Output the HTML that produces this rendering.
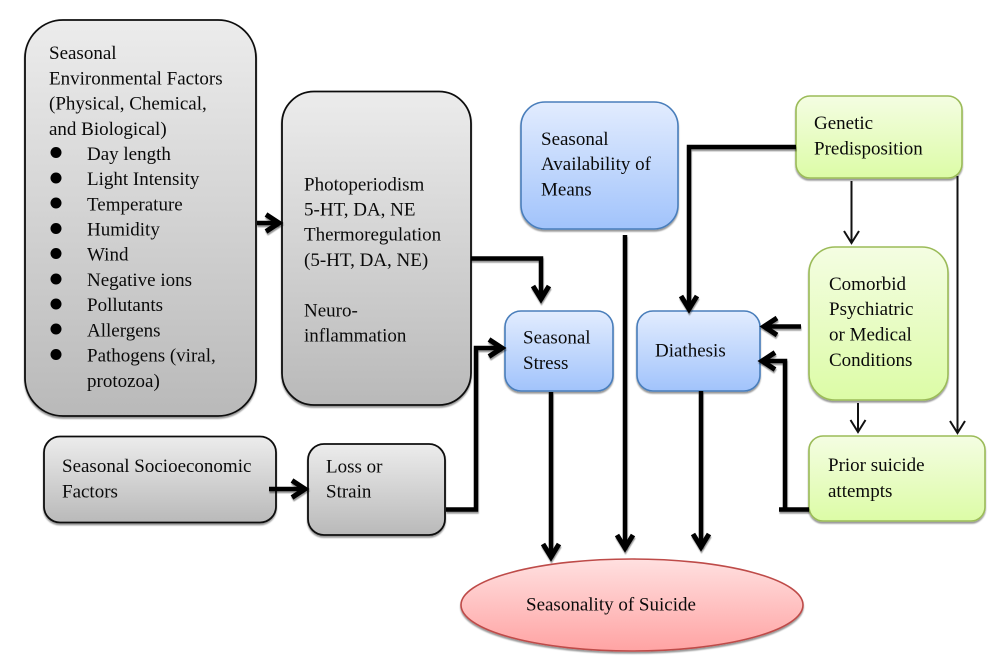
<!DOCTYPE html>
<html>
<head>
<meta charset="utf-8">
<style>
html,body{margin:0;padding:0;background:#fff;width:1000px;height:668px;overflow:hidden}
svg{display:block}
text{font-family:"Liberation Serif",serif;font-size:19px;fill:#0a0a0a}
</style>
</head>
<body>
<svg width="1000" height="668" viewBox="0 0 1000 668" xmlns="http://www.w3.org/2000/svg">
<defs>
<linearGradient id="g" x1="0" y1="0" x2="0" y2="1"><stop offset="0" stop-color="#ececec"/><stop offset="1" stop-color="#b9b9b9"/></linearGradient>
<linearGradient id="b" x1="0" y1="0" x2="0" y2="1"><stop offset="0" stop-color="#e2ecfe"/><stop offset="1" stop-color="#a1c3fb"/></linearGradient>
<linearGradient id="v" x1="0" y1="0" x2="0" y2="1"><stop offset="0" stop-color="#f4fde2"/><stop offset="1" stop-color="#dcfca6"/></linearGradient>
<linearGradient id="r" x1="0" y1="0" x2="0" y2="1"><stop offset="0" stop-color="#ffe0e0"/><stop offset="1" stop-color="#ffa3a3"/></linearGradient>
<filter id="s" x="-5%" y="-5%" width="110%" height="110%"><feDropShadow dx="0" dy="2" stdDeviation="0.8" flood-color="#000" flood-opacity="0.4"/></filter>
<filter id="c" filterUnits="userSpaceOnUse" x="0" y="0" width="1000" height="668"><feDropShadow dx="0.500" dy="2" stdDeviation="0.6" flood-color="#000" flood-opacity="0.4"/></filter>
</defs>

<!-- grey boxes -->
<rect x="25" y="20" width="231" height="396" rx="38" fill="url(#g)" stroke="#111" stroke-width="1.8" filter="url(#s)"/>
<rect x="282" y="91.500" width="189" height="313.500" rx="32" fill="url(#g)" stroke="#111" stroke-width="1.8" filter="url(#s)"/>
<rect x="44" y="436.500" width="232" height="86" rx="16" fill="url(#g)" stroke="#111" stroke-width="1.8" filter="url(#s)"/>
<rect x="308" y="444" width="137" height="91" rx="16" fill="url(#g)" stroke="#111" stroke-width="1.8" filter="url(#s)"/>

<!-- blue boxes -->
<rect x="521" y="102" width="157" height="127" rx="24" fill="url(#b)" stroke="#4a7ebb" stroke-width="1.6" filter="url(#s)"/>
<rect x="505" y="311" width="108" height="80" rx="16" fill="url(#b)" stroke="#4a7ebb" stroke-width="1.6" filter="url(#s)"/>
<rect x="637" y="311" width="123" height="80" rx="16" fill="url(#b)" stroke="#4a7ebb" stroke-width="1.6" filter="url(#s)"/>

<!-- green boxes -->
<rect x="796" y="96" width="166" height="82" rx="14" fill="url(#v)" stroke="#9bbb59" stroke-width="1.6" filter="url(#s)"/>
<rect x="809" y="247" width="139" height="153" rx="26" fill="url(#v)" stroke="#9bbb59" stroke-width="1.6" filter="url(#s)"/>
<rect x="809" y="436" width="176" height="85" rx="14" fill="url(#v)" stroke="#9bbb59" stroke-width="1.6" filter="url(#s)"/>

<!-- ellipse -->
<ellipse cx="632" cy="605" rx="171" ry="46" fill="url(#r)" stroke="#be4b48" stroke-width="1.6" filter="url(#s)"/>

<!-- thick connectors -->
<g fill="none" stroke="#000" stroke-width="4.500" filter="url(#c)">
<path d="M257 223H279"/>
<path d="M269 489H304"/>
<path d="M446 509.500H476V348H502"/>
<path d="M471 258.500H541V298"/>
<path d="M796 147H689V308"/>
<path d="M801 326.500H764"/>
<path d="M785 511V361H762"/>
<path d="M779 509.500H809"/>
<path d="M551 392V556"/>
<path d="M625 235V548"/>
<path d="M701 391V547"/>
</g>
<!-- thick arrowheads -->
<g fill="none" stroke="#000" stroke-width="5" filter="url(#c)">
<path d="M266 214.500L279 223L266 231.500"/>
<path d="M292 480.500L305 489L292 497.500"/>
<path d="M489 339.500L502 348L489 356.500"/>
<path d="M533 286L541 299L549 286"/>
<path d="M681 296L689 309L697 296"/>
<path d="M777 318L764 326.500L777 335"/>
<path d="M775 352.500L762 361L775 369.500"/>
<path d="M543 544L551 557L559 544"/>
<path d="M617 535L625 548L633 535"/>
<path d="M693 534L701 547L709 534"/>
</g>

<!-- thin connectors -->
<g fill="none" stroke="#111" stroke-width="2">
<path d="M851.500 181V243"/>
<path d="M844 231L851.500 243L859 231"/>
<path d="M957.500 176V433"/>
<path d="M950 421L957.500 433L965 421"/>
<path d="M858 403V432"/>
<path d="M850.500 420L858 432L865.500 420"/>
</g>

<!-- bullets -->
<g fill="#000">
<circle cx="56" cy="152.500" r="5.500"/>
<circle cx="56" cy="178" r="5.500"/>
<circle cx="56" cy="203" r="5.500"/>
<circle cx="56" cy="228.500" r="5.500"/>
<circle cx="56" cy="253.500" r="5.500"/>
<circle cx="56" cy="279" r="5.500"/>
<circle cx="56" cy="304" r="5.500"/>
<circle cx="56" cy="329" r="5.500"/>
<circle cx="56" cy="354.500" r="5.500"/>
</g>

<!-- text -->
<text x="49" y="59">Seasonal</text>
<text x="49" y="84.500">Environmental Factors</text>
<text x="49" y="109.500">(Physical, Chemical,</text>
<text x="49" y="135">and Biological)</text>
<text x="87" y="160">Day length</text>
<text x="87" y="185">Light Intensity</text>
<text x="87" y="210.500">Temperature</text>
<text x="87" y="235.500">Humidity</text>
<text x="87" y="260.500">Wind</text>
<text x="87" y="286">Negative ions</text>
<text x="87" y="311">Pollutants</text>
<text x="87" y="336.500">Allergens</text>
<text x="87" y="361.500">Pathogens (viral,</text>
<text x="87" y="387">protozoa)</text>

<text x="304" y="190.500">Photoperiodism</text>
<text x="304" y="215.500">5-HT, DA, NE</text>
<text x="304" y="240.500">Thermoregulation</text>
<text x="304" y="266">(5-HT, DA, NE)</text>
<text x="304" y="316.500">Neuro-</text>
<text x="304" y="341.500">inflammation</text>

<text x="62" y="472">Seasonal Socioeconomic</text>
<text x="62" y="497.500">Factors</text>
<text x="326" y="472.500">Loss or</text>
<text x="326" y="497.500">Strain</text>

<text x="541" y="145">Seasonal</text>
<text x="541" y="170">Availability of</text>
<text x="541" y="195.500">Means</text>
<text x="523" y="343.500">Seasonal</text>
<text x="523" y="369">Stress</text>
<text x="655" y="356.500">Diathesis</text>

<text x="814" y="129">Genetic</text>
<text x="814" y="154.500">Predisposition</text>
<text x="829" y="290">Comorbid</text>
<text x="829" y="315">Psychiatric</text>
<text x="829" y="340.500">or Medical</text>
<text x="829" y="366">Conditions</text>
<text x="828" y="471">Prior suicide</text>
<text x="828" y="497">attempts</text>

<text x="526" y="610.500">Seasonality of Suicide</text>
</svg>
</body>
</html>
